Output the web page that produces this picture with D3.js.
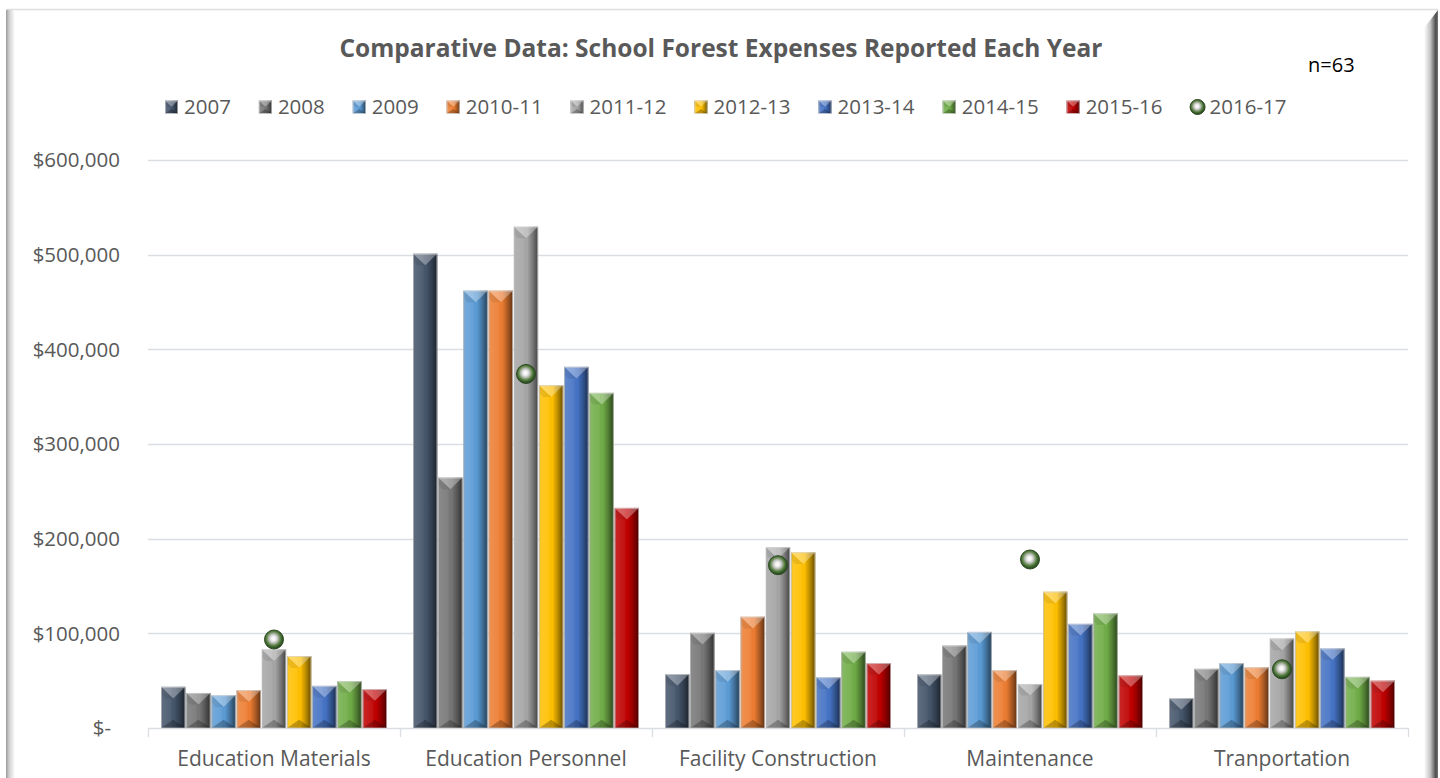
<!DOCTYPE html>
<html>
<head>
<meta charset="utf-8">
<script src="https://cdn.jsdelivr.net/npm/d3@7"></script>
<style>
  html, body { margin: 0; padding: 0; background: #ffffff; }
  svg { display: block; }
  text { font-family: "Open Sans", "Noto Sans", sans-serif; }
</style>
</head>
<body>
<svg id="chart" width="1440" height="778"></svg>
<script>
// ---- data ----
const categories = ["Education Materials", "Education Personnel", "Facility Construction", "Maintenance", "Tranportation"];
const barYears = ["2007", "2008", "2009", "2010-11", "2011-12", "2012-13", "2013-14", "2014-15", "2015-16"];
const lineYear = "2016-17";

const v2007   = [43500, 501000,  57000,  56500, 31500];
const v2008   = [37000, 264500, 100500,  87000, 62500];
const v2009   = [34500, 462000,  61000, 101500, 68500];
const v2010_11 = [40000, 462000, 117500,  61000, 64000];
const v2011_12 = [83000, 529500, 191000,  46500, 94500];
const v2012_13 = [76000, 362000, 185500, 144000, 102000];
const v2013_14 = [44500, 381500,  53500, 110000, 84000];
const v2014_15 = [49500, 354000,  80500, 121000, 54000];
const v2015_16 = [41000, 232500,  68500,  55500, 50000];
const v2016_17 = [93500, 374000, 172000, 178000, 62000];

const barValues = [v2007, v2008, v2009, v2010_11, v2011_12, v2012_13, v2013_14, v2014_15, v2015_16];
const yTicks = [0, 100000, 200000, 300000, 400000, 500000, 600000];

const barColors = ["#44546a", "#767676", "#5b9bd5", "#ed7d31", "#a5a5a5", "#ffc000", "#4472c4", "#70ad47", "#c00000"];

// ---- layout ----
const svg = d3.select("#chart");
const plot = { left: 148, right: 1408, top: 160, bottom: 728 };
const textColor = "#595959";
const gridColor = "#dadde2";

const defs = svg.append("defs");

// frame shading
const gl = defs.append("linearGradient").attr("id", "frameLeft").attr("x1", 0).attr("x2", 1).attr("y1", 0).attr("y2", 0);
gl.append("stop").attr("offset", 0).attr("stop-color", "#9a9a9a");
gl.append("stop").attr("offset", 0.35).attr("stop-color", "#cfcfcf");
gl.append("stop").attr("offset", 1).attr("stop-color", "#ffffff");
const gr = defs.append("linearGradient").attr("id", "frameRight").attr("x1", 0).attr("x2", 1).attr("y1", 0).attr("y2", 0);
gr.append("stop").attr("offset", 0).attr("stop-color", "#ffffff");
gr.append("stop").attr("offset", 0.45).attr("stop-color", "#c4c4c4");
gr.append("stop").attr("offset", 0.85).attr("stop-color", "#4a4a4a");
gr.append("stop").attr("offset", 1).attr("stop-color", "#7a7a7a");

// bar bevel shading
const bs = defs.append("linearGradient").attr("id", "barShade").attr("x1", 0).attr("x2", 1).attr("y1", 0).attr("y2", 0);
[[0, "#000", 0.3], [0.07, "#fff", 0.14], [0.4, "#fff", 0.07], [0.55, "#000", 0.0], [0.78, "#000", 0.28], [1, "#000", 0.6]]
  .forEach(([o, c, a]) => bs.append("stop").attr("offset", o).attr("stop-color", c).attr("stop-opacity", a));

// marker fill
const mg = defs.append("radialGradient").attr("id", "markerFill").attr("cx", 0.47).attr("cy", 0.45).attr("r", 0.55);
[[0, "#ffffff"], [0.22, "#eeeeee"], [0.45, "#b4b9b1"], [0.58, "#7c9668"], [0.75, "#446f33"], [1, "#22401a"]]
  .forEach(([o, c]) => mg.append("stop").attr("offset", o).attr("stop-color", c));

// chart frame
svg.append("rect").attr("x", 6).attr("y", 9).attr("width", 1432).attr("height", 780).attr("fill", "#ffffff");
svg.append("line").attr("x1", 6).attr("x2", 1438).attr("y1", 9.5).attr("y2", 9.5).attr("stroke", "#dedede").attr("stroke-width", 1.5);
svg.append("rect").attr("x", 6).attr("y", 10).attr("width", 9).attr("height", 770).attr("fill", "url(#frameLeft)");
svg.append("path")
  .attr("d", "M1424,28 L1438,10 L1438,778 L1424,778 Z")
  .attr("fill", "url(#frameRight)");

// ---- scales ----
const x0 = d3.scaleBand().domain(categories).range([plot.left, plot.right]).paddingInner(0).paddingOuter(0);
const x1 = d3.scaleBand().domain(barYears).range([0, x0.bandwidth()]).paddingInner(0).paddingOuter(0.5);
const y = d3.scaleLinear().domain([0, 600000]).range([plot.bottom, plot.top]);

// gridlines
svg.append("g")
  .selectAll("line")
  .data(yTicks.filter(d => d > 0))
  .join("line")
  .attr("x1", plot.left).attr("x2", plot.right)
  .attr("y1", d => Math.round(y(d)) + 0.5).attr("y2", d => Math.round(y(d)) + 0.5)
  .attr("stroke", gridColor).attr("stroke-width", 1.3);

// y axis labels (accounting style)
const fmt = d3.format(",");
svg.append("g")
  .selectAll("text")
  .data(yTicks)
  .join("text")
  .attr("x", d => d === 0 ? 111 : 120)
  .attr("y", d => y(d))
  .attr("dy", "0.36em")
  .attr("text-anchor", "end")
  .attr("fill", textColor)
  .attr("font-size", 20.5)
  .text(d => d === 0 ? "$-" : "$" + fmt(d));

// category axis
const xAxis = svg.append("g").attr("transform", `translate(0,${plot.bottom})`)
  .call(d3.axisBottom(x0).tickSize(0).tickPadding(23));
xAxis.select(".domain").attr("stroke", gridColor).attr("stroke-width", 1.3);
xAxis.selectAll("text").attr("fill", textColor).attr("font-size", 21).attr("font-family", '"Open Sans", sans-serif');
svg.append("g").selectAll("line")
  .data(categories.map(c => x0(c)).concat([plot.right]))
  .join("line")
  .attr("x1", d => d + 0.5).attr("x2", d => d + 0.5)
  .attr("y1", plot.bottom).attr("y2", plot.bottom + 9)
  .attr("stroke", gridColor).attr("stroke-width", 1.3);

// ---- bevelled bar ----
function bevelBar(g, x, yTop, w, h, color) {
  const d = Math.min(w * 0.48, h / 2);
  const db = Math.min(w * 0.34, h / 2);
  g.append("rect").attr("x", x).attr("y", yTop).attr("width", w).attr("height", h).attr("fill", color);
  g.append("rect").attr("x", x).attr("y", yTop).attr("width", w).attr("height", h).attr("fill", "url(#barShade)");
  g.append("path")
    .attr("d", `M${x},${yTop} L${x + w},${yTop} L${x + w / 2},${yTop + d} Z`)
    .attr("fill", "#ffffff").attr("fill-opacity", 0.32);
  g.append("path")
    .attr("d", `M${x},${yTop} L${x + w / 2},${yTop + d} L${x + w * 0.15},${yTop + d} L${x},${yTop + d * 0.6} Z`)
    .attr("fill", "#000").attr("fill-opacity", 0.08);
  g.append("path")
    .attr("d", `M${x},${yTop + h} L${x + w},${yTop + h} L${x + w / 2},${yTop + h - db} Z`)
    .attr("fill", "#000").attr("fill-opacity", 0.25);
  g.append("rect").attr("x", x + 0.4).attr("y", yTop + 0.4).attr("width", w - 0.8).attr("height", h - 0.4)
    .attr("fill", "none").attr("stroke", "#d6d6d6").attr("stroke-opacity", 0.8).attr("stroke-width", 0.8);
}

const barsG = svg.append("g");
barYears.forEach((yr, si) => {
  const vals = barValues[si];
  categories.forEach((cat, ci) => {
    const bx = x0(cat) + x1(yr);
    const bw = x1.bandwidth();
    const yt = y(vals[ci]);
    bevelBar(barsG, bx + 0.5, yt, bw - 1, plot.bottom - yt, barColors[si]);
  });
});

// ---- 2016-17 markers ----
function marker(g, cx, cy, r) {
  g.append("circle").attr("cx", cx).attr("cy", cy).attr("r", r)
    .attr("fill", "url(#markerFill)").attr("stroke", "#2c4622").attr("stroke-width", 1);
}
const markG = svg.append("g");
categories.forEach((cat, ci) => {
  marker(markG, x0(cat) + x0.bandwidth() / 2, y(v2016_17[ci]), 9.5);
});

// ---- title ----
svg.append("text")
  .attr("x", 721).attr("y", 57)
  .attr("text-anchor", "middle")
  .attr("font-size", 24.5).attr("font-weight", 700)
  .attr("fill", textColor)
  .attr("textLength", 763).attr("lengthAdjust", "spacingAndGlyphs")
  .text("Comparative Data: School Forest Expenses Reported Each Year");

svg.append("text")
  .attr("x", 1308).attr("y", 72)
  .attr("font-size", 20).attr("fill", "#000000")
  .text("n=63");

// ---- legend ----
const legend = svg.append("g");
const legendItems = barYears.map((yr, i) => ({ label: yr, color: barColors[i], kind: "bar" }))
  .concat([{ label: lineYear, kind: "marker" }]);
const legendGap = 28;
let lx = 0;
const itemG = legend.selectAll("g").data(legendItems).join("g");
itemG.each(function (d) {
  const g = d3.select(this);
  if (d.kind === "bar") {
    bevelBar(g, 0, -6.5, 13, 13, d.color);
  } else {
    marker(g, 7, 0, 7.5);
  }
  g.append("text").attr("x", 19).attr("y", 0).attr("dy", "0.36em")
    .attr("font-size", 20.5).attr("fill", textColor).text(d.label);
});
itemG.each(function () {
  const g = d3.select(this);
  const w = this.getBBox().width;
  g.attr("transform", `translate(${lx},0)`);
  lx += w + legendGap;
});
const legendW = lx - legendGap;
legend.attr("transform", `translate(${726 - legendW / 2},107)`);
</script>
</body>
</html>
